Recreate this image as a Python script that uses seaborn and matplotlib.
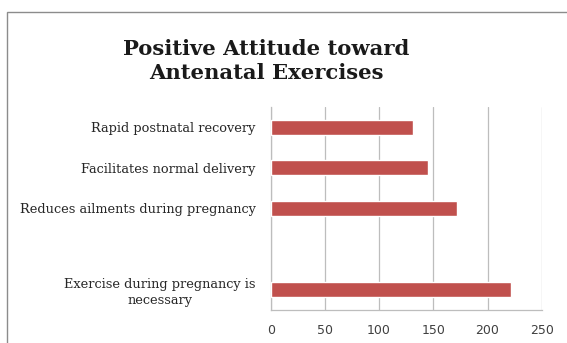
import matplotlib
matplotlib.use("Agg")
import matplotlib.pyplot as plt
from matplotlib.patches import Rectangle
import seaborn as sns
import pandas as pd

# Responses (number of respondents) per attitude statement
statements = [
    "Rapid postnatal recovery",
    "Facilitates normal delivery",
    "Reduces ailments during pregnancy",
    "Exercise during pregnancy is\nnecessary",
]
counts = [131, 145, 172, 222]
# Row order on the chart, with an empty row before the last statement
row_order = [statements[0], statements[1], statements[2], "", statements[3]]
x_ticks = [0, 50, 100, 150, 200, 250]

title = "Positive Attitude toward\nAntenatal Exercises"
bar_color = "#C0504D"
grid_color = "#BDBDBD"

df = pd.DataFrame({"statement": statements, "count": counts})

sns.set_theme(style="white")
plt.rcParams["font.family"] = ["DejaVu Serif", "Liberation Serif"]

fig = plt.figure(figsize=(5.67, 3.43), dpi=100)
W, H = 567, 343
ax = fig.add_axes([270.7 / W, 1 - 310 / H, (541.7 - 270.7) / W, (310 - 107) / H])

sns.barplot(data=df, x="count", y="statement", order=row_order,
            color=bar_color, saturation=1, width=0.37, ax=ax, zorder=3)

ax.set_xlim(0, 250)
ax.set_xticks(x_ticks)
ax.set_xticklabels([str(t) for t in x_ticks], fontsize=9, color="#404040",
                   family="DejaVu Sans")
ax.tick_params(axis="x", length=0, pad=10)
ax.tick_params(axis="y", length=0, pad=11)
for lbl in ax.get_yticklabels():
    lbl.set_fontsize(9.3)
    lbl.set_color("#262626")
    lbl.set_multialignment("center")
    lbl.set_linespacing(1.3)
ax.set_xlabel("")
ax.set_ylabel("")
ax.xaxis.grid(True, color=grid_color, linewidth=0.9, zorder=0)
ax.yaxis.grid(False)
for side in ("top", "right"):
    ax.spines[side].set_visible(False)
for side in ("left", "bottom"):
    ax.spines[side].set_color("#BDBDBD")
    ax.spines[side].set_linewidth(0.9)

fig.text(266 / W, 1 - 61 / H, title, ha="center", va="center",
         fontsize=15.2, fontweight="bold", color="#1a1a1a", linespacing=1.2)

# Chart-area border
fig.patches.append(Rectangle((7 / W, -0.1), 1.2, 1 - 12 / H + 0.1,
                             transform=fig.transFigure, fill=False,
                             edgecolor="#8C8C8C", linewidth=1.0))

fig.savefig("out.png", dpi=100)
